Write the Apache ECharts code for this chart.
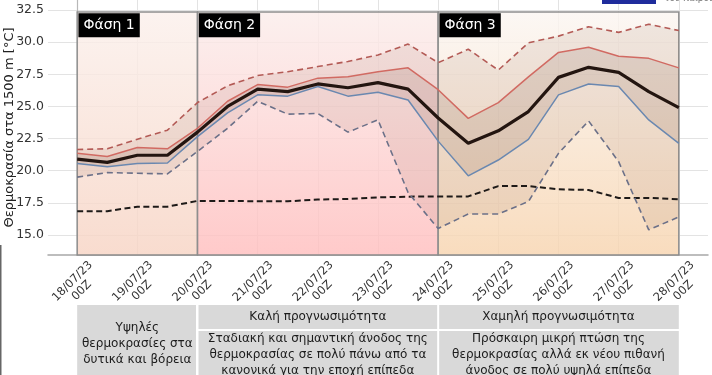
<!DOCTYPE html>
<html><head><meta charset="utf-8">
<script src="https://cdn.jsdelivr.net/npm/echarts@6/dist/echarts.min.js"></script>
<style>html,body{margin:0;padding:0;background:#fff}#c{width:712px;height:375px}</style>
</head><body><div id="c"></div>
<script>
// time steps (12-hourly index from 18/07/23 00Z)
const steps = [0,1,2,3,4,5,6,7,8,9,10,11,12,13,14,15,16,17,18,19,20];
const tickLabels = ['18/07/23\n00Z','19/07/23\n00Z','20/07/23\n00Z','21/07/23\n00Z','22/07/23\n00Z','23/07/23\n00Z','24/07/23\n00Z','25/07/23\n00Z','26/07/23\n00Z','27/07/23\n00Z','28/07/23\n00Z'];
const tickSteps = [0,2,4,6,8,10,12,14,16,18,20];
const yTicks = [15,17.5,20,22.5,25,27.5,30,32.5];

const ensMax  = [21.65,21.7,22.45,23.15,25.3,26.6,27.4,27.7,28.1,28.5,29.0,29.85,28.4,29.45,27.83,29.95,30.47,31.2,30.76,31.4,30.9];
const ensP90  = [21.35,21.1,21.8,21.7,23.3,25.4,26.7,26.5,27.2,27.3,27.7,28.0,26.3,24.07,25.3,27.3,29.2,29.6,28.9,28.74,28.0];
const ensMean = [20.9,20.65,21.2,21.2,23.0,25.0,26.35,26.15,26.75,26.45,26.85,26.35,24.1,22.13,23.1,24.6,27.26,28.04,27.65,26.15,24.9];
const ensP10  = [20.55,20.3,20.55,20.6,22.65,24.5,25.9,25.8,26.55,25.8,26.1,25.5,22.3,19.6,20.83,22.44,25.9,26.75,26.55,23.95,22.13];
const ensMin  = [19.5,19.85,19.8,19.75,21.5,23.3,25.4,24.4,24.45,23.0,23.95,18.3,15.5,16.63,16.63,17.6,21.35,23.87,20.7,15.4,16.4];
const climate = [16.85,16.85,17.2,17.2,17.65,17.65,17.62,17.62,17.75,17.8,17.92,17.98,18.0,18.0,18.8,18.8,18.55,18.5,17.88,17.88,17.78];

const phaseNames = ['Φάση 1','Φάση 2','Φάση 3'];
const phaseStart = [0,4,12];
const phaseEnd = [4,12,20];
const tableHeaders = ['Καλή προγνωσιμότητα','Χαμηλή προγνωσιμότητα'];
const tableLeft = 'Υψηλές\nθερμοκρασίες στα\nδυτικά και βόρεια';
const tableBodies = ['Σταδιακή και σημαντική άνοδος της\nθερμοκρασίας σε πολύ πάνω από τα\nκανονικά για την εποχή επίπεδα',
                     'Πρόσκαιρη μικρή πτώση της\nθερμοκρασίας αλλά εκ νέου πιθανή\nάνοδος σε πολύ υψηλά επίπεδα'];
const yAxisTitle = 'Θερμοκρασία στα 1500 m [°C]';

const FONT = 'DejaVu Sans';
const YMIN = 13.44, YMAX = 33.28, BOXTOP = 32.34;
const pair = arr => steps.map((s,i)=>[s, arr[i]]);
const grad = (t,b) => ({type:'linear',x:0,y:0,x2:0,y2:1,colorStops:[{offset:0,color:t},{offset:1,color:b}]});
const phaseColors = [
  grad('rgba(251,240,236,0.82)','rgba(247,212,196,0.82)'),
  grad('rgba(251,237,235,0.82)','rgba(255,190,190,0.82)'),
  grad('rgba(251,246,242,0.82)','rgba(247,212,175,0.82)')
];

// band polygon built through the axis scales
function bandSeries(name, lo, hi, color) {
  return {type:'custom', name:name, silent:true, z:2, animation:false,
    data: steps.map((s,i)=>[s, lo[i], hi[i]]),
    encode:{x:0, y:[1,2]},
    renderItem:function(params, api){
      if (params.dataIndex !== 0) return null;
      const pts = [];
      for (let i=0;i<steps.length;i++) pts.push(api.coord([steps[i], hi[i]]));
      for (let i=steps.length-1;i>=0;i--) pts.push(api.coord([steps[i], lo[i]]));
      return {type:'polygon', shape:{points:pts}, style:{fill:color}};
    }};
}

const chart = echarts.init(document.getElementById('c'), null, {renderer:'canvas'});
const lineBase = {type:'line', symbol:'none', silent:true, animation:false};
const option = {
  animation:false,
  backgroundColor:'#fff',
  textStyle:{fontFamily:FONT},
  grid:{left:48, right:4, top:0, bottom:120, containLabel:false, outerBoundsMode:'none'},
  xAxis:{type:'value', min:-0.97, max:20.97,
    axisLine:{show:true, lineStyle:{color:'#a8a8a8', width:1.5}},
    axisTick:{show:false, customValues:tickSteps},
    axisLabel:{customValues:tickSteps, rotate:45, align:'center', verticalAlign:'middle', margin:31,
      fontSize:11.5, lineHeight:13, color:'#333', fontFamily:FONT,
      formatter:v=>tickLabels[tickSteps.indexOf(Math.round(v))] || ''},
    splitLine:{show:true, lineStyle:{color:'#e3e3e3', width:1}}
  },
  yAxis:{type:'value', min:YMIN, max:YMAX,
    name:yAxisTitle, nameLocation:'middle', nameGap:32, nameRotate:90, nameMoveOverlap:false,
    nameTextStyle:{fontSize:13, color:'#222', fontFamily:FONT},
    axisLine:{show:true, lineStyle:{color:'#b8b8b8', width:1.2}},
    axisTick:{show:false, customValues:yTicks},
    axisLabel:{customValues:yTicks, fontSize:12.5, color:'#333', margin:4, fontFamily:FONT, formatter:v=>v.toFixed(1)},
    splitLine:{show:true, lineStyle:{color:'#e3e3e3', width:1}}
  },
  series:[
    Object.assign({}, lineBase, {name:'phases', data:[], z:1,
      markArea:{silent:true, data: phaseNames.map((n,k)=>[
        {name:n, xAxis:phaseStart[k], yAxis:BOXTOP, itemStyle:{color:phaseColors[k], borderColor:'#8e8e8e', borderWidth:1.5},
         label:{show:true, position:'insideTopLeft', distance:2, color:'#fff', backgroundColor:'#000', fontSize:14, fontFamily:FONT, padding:[4,5,3,5], lineHeight:17}},
        {xAxis:phaseEnd[k], yAxis:YMIN}])}}),
    bandSeries('outerBand', ensMin, ensMax, 'rgba(130,80,60,0.10)'),
    bandSeries('innerBand', ensP10, ensP90, 'rgba(110,70,55,0.13)'),
    Object.assign({}, lineBase, {name:'climate', data:pair(climate), z:4, lineStyle:{color:'#1e1a18', width:2, type:[6,3.5]}}),
    Object.assign({}, lineBase, {name:'max', data:pair(ensMax), z:4, lineStyle:{color:'#b35a55', width:1.6, type:[6,4]}}),
    Object.assign({}, lineBase, {name:'min', data:pair(ensMin), z:4, lineStyle:{color:'#6b7088', width:1.6, type:[6,4]}}),
    Object.assign({}, lineBase, {name:'p90', data:pair(ensP90), z:5, lineStyle:{color:'#d16a62', width:1.5}}),
    Object.assign({}, lineBase, {name:'p10', data:pair(ensP10), z:5, lineStyle:{color:'#6a88b0', width:1.5}}),
    Object.assign({}, lineBase, {name:'mean', data:pair(ensMean), z:6, lineStyle:{color:'#231510', width:3.2}})
  ]
};
chart.setOption(option);

// table below the chart, aligned to phase boundaries
const px = i => chart.convertToPixel({xAxisIndex:0}, i);
const x0 = px(phaseStart[0]), x1 = px(phaseStart[1]), x2 = px(phaseStart[2]), x3 = px(phaseEnd[2]);
const cellStyle = {fill:'#d9d9d9'};
const txt = (x,y,t) => ({type:'text', x:x, y:y, style:{text:t, fill:'#1c1c1c', font:'12px "DejaVu Sans"', textAlign:'center', textVerticalAlign:'middle', lineHeight:16}});
const graphics = [
  {type:'rect', shape:{x:x0, y:305, width:x1-x0-1.5, height:80}, style:cellStyle},
  {type:'rect', shape:{x:x1+1, y:305, width:x2-x1-2, height:24}, style:cellStyle},
  {type:'rect', shape:{x:x1+1, y:331, width:x2-x1-2, height:60}, style:cellStyle},
  {type:'rect', shape:{x:x2+1, y:305, width:x3-x2-1, height:24}, style:cellStyle},
  {type:'rect', shape:{x:x2+1, y:331, width:x3-x2-1, height:60}, style:cellStyle},
  txt((x0+x1)/2, 344, tableLeft),
  txt((x1+x2)/2, 317, tableHeaders[0]),
  txt((x2+x3)/2, 317, tableHeaders[1]),
  txt((x1+x2)/2, 355, tableBodies[0]),
  txt((x2+x3)/2, 355, tableBodies[1]),
  {type:'line', shape:{x1:0.75, y1:245, x2:0.75, y2:375}, style:{stroke:'#666', lineWidth:1.5}},
  {type:'rect', shape:{x:602, y:0, width:54, height:4}, style:{fill:'#1f2c9c'}},
  {type:'text', x:664, y:-6, style:{text:'του Καιρού', fill:'#777', font:'9px "DejaVu Sans"'}}
];
chart.setOption({graphic:graphics});
</script>
</body></html>
